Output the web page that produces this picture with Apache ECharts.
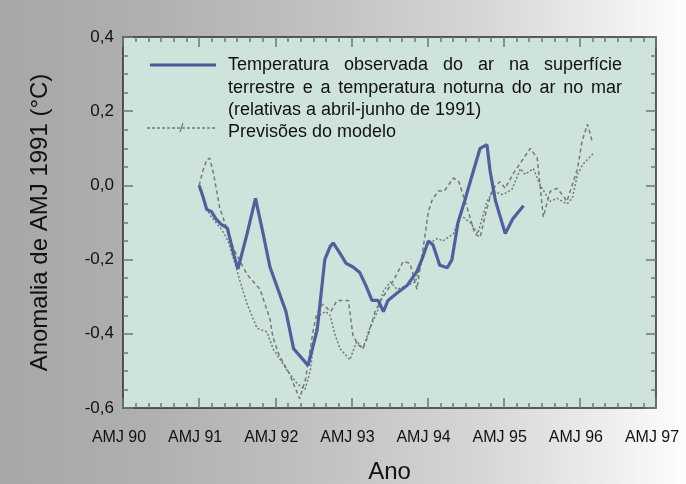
<!DOCTYPE html>
<html><head><meta charset="utf-8">
<script src="https://cdn.jsdelivr.net/npm/echarts/dist/echarts.min.js"></script>
<style>
html,body{margin:0;padding:0;}
#c{width:686px;height:484px;background:linear-gradient(to right,#a7a7a7 0%,#afafaf 20%,#c0c0c0 45%,#d6d6d6 70%,#f2f2f2 92%,#fdfdfd 100%);}
</style>
</head><body><div id="c"></div>
<script>
// Tick labels
const xTickLabels = ["AMJ 90","AMJ 91","AMJ 92","AMJ 93","AMJ 94","AMJ 95","AMJ 96","AMJ 97"];
const yTickLabels = ["-0,6","-0,4","-0,2","0,0","0,2","0,4"];

// Observed (years after AMJ 90)
const obsYears = [1.00,1.05,1.10,1.16,1.22,1.29,1.37,1.46,1.51,1.63,1.74,1.84,1.93,2.14,2.24,2.43,2.55,2.65,2.72,2.76,2.84,2.93,3.02,3.11,3.19,3.27,3.35,3.42,3.48,3.60,3.73,3.86,3.93,4.01,4.07,4.16,4.26,4.32,4.40,4.49,4.56,4.69,4.78,4.82,4.89,5.02,5.12,5.26];
const obsValues = [0.00,-0.03,-0.065,-0.07,-0.09,-0.105,-0.115,-0.19,-0.225,-0.13,-0.035,-0.13,-0.22,-0.34,-0.44,-0.485,-0.39,-0.20,-0.165,-0.155,-0.18,-0.21,-0.22,-0.235,-0.27,-0.31,-0.31,-0.34,-0.31,-0.29,-0.27,-0.232,-0.197,-0.15,-0.16,-0.215,-0.222,-0.20,-0.10,-0.04,0.01,0.10,0.11,0.04,-0.04,-0.13,-0.09,-0.055];

// Model run A
const modelAYears = [1.00,1.05,1.10,1.14,1.19,1.27,1.36,1.45,1.63,1.80,1.93,1.97,2.05,2.19,2.32,2.40,2.49,2.54,2.62,2.73,2.81,2.96,3.02,3.09,3.15,3.21,3.31,3.40,3.48,3.57,3.68,3.77,3.86,3.97,4.01,4.06,4.14,4.22,4.34,4.41,4.52,4.62,4.69,4.77,4.85,4.95,5.02,5.12,5.26,5.35,5.44,5.52,5.61,5.70,5.77,5.83,5.97,6.03,6.10,6.16];
const modelAValues = [0.00,0.04,0.07,0.073,0.03,-0.06,-0.115,-0.17,-0.24,-0.28,-0.36,-0.41,-0.457,-0.51,-0.575,-0.52,-0.40,-0.35,-0.32,-0.34,-0.31,-0.31,-0.405,-0.43,-0.44,-0.41,-0.34,-0.305,-0.28,-0.25,-0.205,-0.21,-0.28,-0.13,-0.07,-0.04,-0.015,-0.015,0.02,0.01,-0.06,-0.13,-0.14,-0.07,-0.01,0.01,-0.008,0.03,0.073,0.10,0.073,-0.085,-0.016,-0.008,-0.025,-0.043,0.045,0.12,0.165,0.12];

// Model run B
const modelBYears = [1.00,1.06,1.14,1.22,1.30,1.38,1.47,1.54,1.63,1.76,1.89,1.97,2.16,2.29,2.39,2.46,2.52,2.58,2.66,2.72,2.78,2.85,2.98,3.07,3.15,3.24,3.34,3.42,3.51,3.60,3.73,3.84,3.99,4.13,4.20,4.34,4.43,4.56,4.66,4.78,4.86,4.99,5.11,5.22,5.28,5.39,5.48,5.61,5.70,5.83,5.90,5.97,6.04,6.18];
const modelBValues = [0.00,-0.04,-0.08,-0.10,-0.12,-0.15,-0.21,-0.26,-0.32,-0.385,-0.395,-0.44,-0.50,-0.535,-0.55,-0.50,-0.40,-0.35,-0.34,-0.35,-0.40,-0.44,-0.47,-0.42,-0.44,-0.385,-0.34,-0.285,-0.26,-0.28,-0.27,-0.26,-0.16,-0.143,-0.15,-0.13,-0.08,-0.10,-0.13,-0.043,-0.016,-0.025,-0.01,0.045,0.03,0.045,0.0,-0.043,-0.035,-0.05,-0.035,0.03,0.057,0.087];

const legendObserved = ["Temperatura observada do ar na superfície","terrestre e a temperatura noturna do ar no mar","(relativas a abril-junho de 1991)"];
const legendModel = "Previsões do modelo";

const zip = (xs, ys) => xs.map((x, i) => [x, ys[i]]);
const FONT = '"Liberation Sans", Arial, sans-serif';
const LEGEND_FONT = '18px ' + FONT;
const tickColor = '#6f7873';
const obsColor = '#4a5899';
const modelColor = '#707c76';

// justified legend lines
const ctx = document.createElement('canvas').getContext('2d');
ctx.font = LEGEND_FONT;
function justifiedWords(text, x0, x1, y) {
  const words = text.split(' ');
  const widths = words.map(w => ctx.measureText(w).width);
  const total = widths.reduce((a, b) => a + b, 0);
  const gap = (x1 - x0 - total) / (words.length - 1);
  let x = x0;
  return words.map((w, i) => {
    const el = {type: 'text', x: x, y: y, z: 10,
      style: {text: w, font: LEGEND_FONT, fill: '#111', verticalAlign: 'middle', textAlign: 'left'}};
    x += widths[i] + gap;
    return el;
  });
}

const chart = echarts.init(document.getElementById('c'), null, {renderer: 'canvas'});

const tickStyle = {color: tickColor, width: 1.5};
function axisTicks(split) {
  return {
    axisLine: {show: false, onZero: false},
    splitLine: {show: false},
    axisTick: {show: true, inside: true, length: 10, lineStyle: tickStyle},
    minorTick: {show: true, splitNumber: split, length: 5, lineStyle: tickStyle}
  };
}

chart.setOption({
  animation: false,
  grid: {left: 123, right: 30, top: 37, height: 371, show: true, outerBoundsMode: 'none', containLabel: false,
         backgroundColor: '#cee3db', borderColor: '#2c2c2c', borderWidth: 1.5},
  xAxis: [
    Object.assign({type: 'value', min: 0, max: 7, interval: 1, position: 'bottom',
      axisLabel: {formatter: v => xTickLabels[Math.round(v)], fontSize: 16, color: '#111', margin: 22, fontFamily: FONT, padding: [0, 8, 0, 0]},
      name: 'Ano', nameLocation: 'middle', nameGap: 52,
      nameTextStyle: {fontSize: 24, color: '#111', fontFamily: FONT}}, axisTicks(6)),
    Object.assign({type: 'value', min: 0, max: 7, interval: 1, position: 'top', axisLabel: {show: false}}, axisTicks(6))
  ],
  yAxis: [
    Object.assign({type: 'value', min: -0.6, max: 0.4, interval: 0.2, position: 'left',
      axisLabel: {formatter: v => yTickLabels[Math.round((v + 0.6) / 0.2)], fontSize: 17, color: '#111', margin: 9, fontFamily: FONT},
      name: 'Anomalia de AMJ 1991 (°C)', nameLocation: 'middle', nameGap: 71, nameRotate: 90,
      nameTextStyle: {fontSize: 24, color: '#111', fontFamily: FONT}}, axisTicks(4)),
    Object.assign({type: 'value', min: -0.6, max: 0.4, interval: 0.2, position: 'right', axisLabel: {show: false}}, axisTicks(4))
  ],
  series: [
    {name: 'Previsões do modelo (B)', type: 'line', data: zip(modelBYears, modelBValues), showSymbol: false,
     lineStyle: {color: modelColor, width: 1.5, type: [2, 2]}, z: 2},
    {name: 'Previsões do modelo (A)', type: 'line', data: zip(modelAYears, modelAValues), showSymbol: false,
     lineStyle: {color: modelColor, width: 1.5, type: [4, 3]}, z: 2},
    {name: 'Temperatura observada', type: 'line', data: zip(obsYears, obsValues), showSymbol: false,
     lineStyle: {color: obsColor, width: 3.2, opacity: 0.95}, z: 3}
  ],
  graphic: [
    {type: 'line', shape: {x1: 150, y1: 65, x2: 216, y2: 65}, style: {stroke: obsColor, lineWidth: 3.2}, z: 10},
    {type: 'line', shape: {x1: 147, y1: 128, x2: 216, y2: 128}, style: {stroke: modelColor, lineWidth: 1.4, lineDash: [3, 2]}, z: 10},
    {type: 'line', shape: {x1: 180, y1: 132, x2: 183, y2: 123}, style: {stroke: modelColor, lineWidth: 1.2}, z: 10}
  ].concat(justifiedWords(legendObserved[0], 228, 622, 65))
   .concat(justifiedWords(legendObserved[1], 228, 622, 88)).concat([
    {type: 'text', x: 228, y: 110, style: {text: legendObserved[2], font: LEGEND_FONT, fill: '#111', verticalAlign: 'middle', textAlign: 'left'}, z: 10},
    {type: 'text', x: 228, y: 132, style: {text: legendModel, font: LEGEND_FONT, fill: '#111', verticalAlign: 'middle', textAlign: 'left'}, z: 10}
  ])
});
</script>
</body></html>
